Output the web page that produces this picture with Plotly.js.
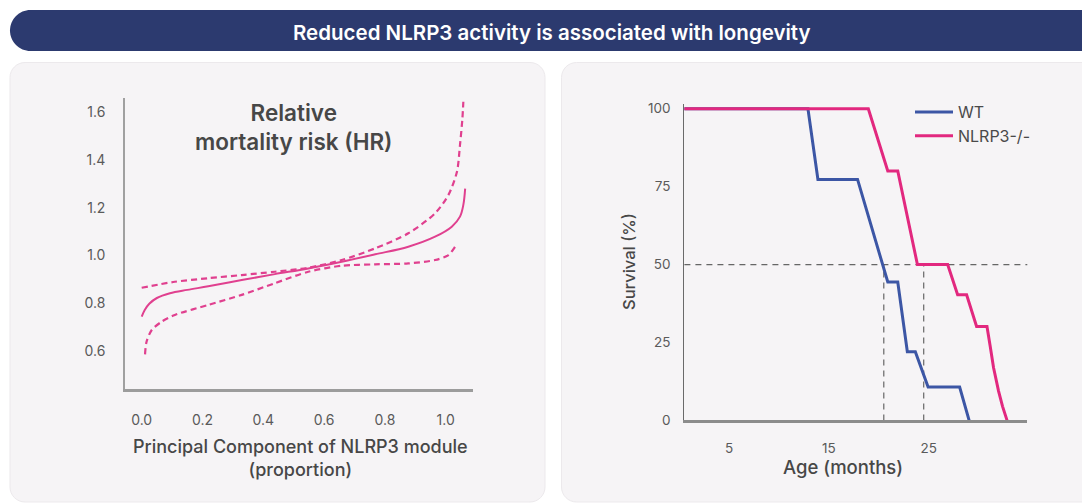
<!DOCTYPE html>
<html>
<head>
<meta charset="utf-8">
<script src="https://cdn.plot.ly/plotly-3.0.1.min.js"></script>
<style>
  html, body { margin: 0; padding: 0; background: #ffffff; }
  #chart { width: 1082px; height: 504px; }
</style>
</head>
<body>
<div id="chart"></div>
<script>
// ---------- Data ----------
const pcX      = [0, 0.01, 0.025, 0.05, 0.093, 0.15, 0.219, 0.329, 0.438, 0.548, 0.658, 0.768, 0.877, 0.965, 1.02, 1.047, 1.058, 1.064];
const hrMid    = [0.744, 0.772, 0.798, 0.822, 0.842, 0.856, 0.871, 0.897, 0.922, 0.946, 0.974, 1.005, 1.037, 1.079, 1.121, 1.163, 1.212, 1.28];
const upX      = [0, 0.109, 0.219, 0.329, 0.438, 0.548, 0.658, 0.768, 0.877, 0.965, 1.009, 1.037, 1.047, 1.055, 1.058];
const hrUpper  = [0.865, 0.89, 0.905, 0.918, 0.932, 0.949, 0.981, 1.03, 1.093, 1.177, 1.254, 1.351, 1.463, 1.575, 1.644];
const loX      = [0.011, 0.016, 0.033, 0.066, 0.109, 0.219, 0.329, 0.438, 0.548, 0.658, 0.768, 0.877, 0.965, 1.009, 1.031, 1.037];
const hrLower  = [0.586, 0.639, 0.688, 0.723, 0.751, 0.793, 0.835, 0.884, 0.932, 0.957, 0.963, 0.967, 0.981, 1.002, 1.037, 1.05];

const wtAge    = [0, 12.9, 13.9, 17.87, 20.9, 21.9, 22.86, 23.66, 24.94, 28.1, 29.05];
const wtSurv   = [100, 100, 77.3, 77.3, 44.4, 44.4, 22, 22, 10.7, 10.7, 0];
const koAge    = [0, 18.95, 20.9, 21.9, 23.87, 26.9, 27.9, 28.8, 29.8, 30.84, 31.15, 31.5, 32.0, 32.4, 32.85];
const koSurv   = [100, 100, 80, 80, 50, 50, 40.3, 40.3, 30.1, 30.1, 24, 16.9, 9.4, 4.5, 0];
const medianAges = [20.5, 24.5];
const halfSurvival = 50;

const seriesNames = ['WT', 'NLRP3-/-'];
const hrTicks   = [0.6, 0.8, 1.0, 1.2, 1.4, 1.6];
const pcTicks   = [0.0, 0.2, 0.4, 0.6, 0.8, 1.0];
const ageTicks  = [5, 15, 25];
const survTicks = [0, 25, 50, 75, 100];

const headerText = 'Reduced NLRP3 activity is associated with longevity';
const leftTitle  = 'Relative<br>mortality risk (HR)';
const leftXTitle = 'Principal Component of NLRP3 module<br>(proportion)';
const rightXTitle = 'Age (months)';
const rightYTitle = 'Survival (%)';

// ---------- Helpers ----------
const W = 1082, H = 504;
const FONT = 'Inter, "Open Sans", sans-serif';
const px = x => x / W;
const py = y => 1 - y / H;
function roundRect(x0, y0, x1, y1, r) {
  const k = 0.5523 * r;
  const P = (x, y) => px(x).toFixed(5) + ',' + py(y).toFixed(5);
  return 'M' + P(x0 + r, y0) + ' L' + P(x1 - r, y0) +
    ' C' + P(x1 - r + k, y0) + ' ' + P(x1, y0 + r - k) + ' ' + P(x1, y0 + r) +
    ' L' + P(x1, y1 - r) +
    ' C' + P(x1, y1 - r + k) + ' ' + P(x1 - r + k, y1) + ' ' + P(x1 - r, y1) +
    ' L' + P(x0 + r, y1) +
    ' C' + P(x0 + r - k, y1) + ' ' + P(x0, y1 - r + k) + ' ' + P(x0, y1 - r) +
    ' L' + P(x0, y0 + r) +
    ' C' + P(x0, y0 + r - k) + ' ' + P(x0 + r - k, y0) + ' ' + P(x0 + r, y0) + ' Z';
}

const PINK = '#e0408f';
const BLUE = '#3c56a5';
const KOPINK = '#e2287f';

const traces = [
  { x: pcX, y: hrMid, xaxis: 'x', yaxis: 'y', mode: 'lines', showlegend: false,
    line: { color: PINK, width: 2, shape: 'spline', smoothing: 1 }, hoverinfo: 'skip' },
  { x: upX, y: hrUpper, xaxis: 'x', yaxis: 'y', mode: 'lines', showlegend: false,
    line: { color: PINK, width: 2.2, dash: '6px,4px', shape: 'spline', smoothing: 0.8 }, hoverinfo: 'skip' },
  { x: loX, y: hrLower, xaxis: 'x', yaxis: 'y', mode: 'lines', showlegend: false,
    line: { color: PINK, width: 2.2, dash: '6px,4px', shape: 'spline', smoothing: 0.8 }, hoverinfo: 'skip' },
  { x: wtAge, y: wtSurv, xaxis: 'x2', yaxis: 'y2', mode: 'lines', name: seriesNames[0], legendgroup: 'a',
    line: { color: BLUE, width: 3 } },
  { x: koAge, y: koSurv, xaxis: 'x2', yaxis: 'y2', mode: 'lines', name: seriesNames[1], legendgroup: 'b',
    line: { color: KOPINK, width: 3 } }
];

const shapes = [
  { type: 'path', xref: 'paper', yref: 'paper', layer: 'below', path: roundRect(10, 10, 1120, 51, 20.5),
    fillcolor: '#2c3a6f', line: { width: 0 } },
  { type: 'path', xref: 'paper', yref: 'paper', layer: 'below', path: roundRect(10, 62.5, 545, 502, 15),
    fillcolor: '#f6f4f6', line: { color: '#ece9ec', width: 1 } },
  { type: 'path', xref: 'paper', yref: 'paper', layer: 'below', path: roundRect(561.5, 62.5, 1120, 502, 15),
    fillcolor: '#f6f4f6', line: { color: '#ece9ec', width: 1 } },
  // 50% survival reference
  { type: 'line', xref: 'x2 domain', yref: 'y2', x0: 0, x1: 1, y0: halfSurvival, y1: halfSurvival,
    line: { color: '#666666', width: 1.2, dash: '6px,5px' }, layer: 'below' }
];
medianAges.forEach(a => shapes.push({ type: 'line', xref: 'x2', yref: 'y2', x0: a, x1: a, y0: 0, y1: halfSurvival,
  line: { color: '#666666', width: 1.2, dash: '6px,5px' }, layer: 'below' }));

const axisFont = { family: FONT, size: 14, color: '#5a5a5a' };

const layout = {
  width: W, height: H,
  margin: { l: 0, r: 0, t: 0, b: 0, pad: 0 },
  paper_bgcolor: '#ffffff',
  plot_bgcolor: 'rgba(0,0,0,0)',
  font: { family: FONT },
  showlegend: true,
  legend: {
    x: px(910), y: py(95), xanchor: 'left', yanchor: 'top',
    bgcolor: 'rgba(0,0,0,0)', borderwidth: 0,
    font: { family: FONT, size: 16, color: '#4a4a4a' },
    itemwidth: 38, traceorder: 'grouped', tracegroupgap: 0
  },
  xaxis: {
    domain: [px(125), px(473)], range: [-0.0549, 1.0898],
    tickvals: pcTicks, ticktext: pcTicks.map(v => v.toFixed(1)),
    showgrid: false, zeroline: false, showline: true, linecolor: '#9c9c9c', linewidth: 2.5,
    ticks: '', tickfont: axisFont, ticklabelstandoff: 16, anchor: 'y', fixedrange: true
  },
  yaxis: {
    domain: [py(389.3), py(98.3)], range: [0.4395, 1.6587],
    tickvals: hrTicks, ticktext: hrTicks.map(v => v.toFixed(1)),
    showgrid: false, zeroline: false, showline: true, linecolor: '#a0a0a0', linewidth: 1.8,
    ticks: '', tickfont: axisFont, ticklabelstandoff: 15, anchor: 'x', fixedrange: true
  },
  xaxis2: {
    domain: [px(684.4), px(1027.3)], range: [0.52, 34.88],
    tickvals: ageTicks,
    showgrid: false, zeroline: false, showline: true, linecolor: '#8c8c8c', linewidth: 3,
    ticks: '', tickfont: { family: FONT, size: 13.5, color: '#5a5a5a' }, ticklabelstandoff: 13, anchor: 'y2', fixedrange: true
  },
  yaxis2: {
    domain: [py(420.4), py(103.7)], range: [0, 101.6],
    tickvals: survTicks,
    showgrid: false, zeroline: false, showline: true, linecolor: '#6a6a6a', linewidth: 1.2,
    ticks: '', tickfont: { family: FONT, size: 13.5, color: '#5a5a5a' }, ticklabelstandoff: 10, anchor: 'x2', fixedrange: true
  },
  shapes: shapes,
  annotations: [
    { text: headerText, xref: 'paper', yref: 'paper', x: px(552), y: py(32), xanchor: 'center', yanchor: 'middle',
      showarrow: false, font: { family: FONT, size: 20.5, color: '#ffffff', weight: 600 } },
    { text: leftTitle, xref: 'paper', yref: 'paper', x: px(294), y: py(126.5), xanchor: 'center', yanchor: 'middle',
      showarrow: false, font: { family: FONT, size: 22.5, color: '#474747', weight: 600 } },
    { text: leftXTitle, xref: 'paper', yref: 'paper', x: px(300), y: py(457.5), xanchor: 'center', yanchor: 'middle',
      showarrow: false, font: { family: FONT, size: 18, color: '#474747', weight: 500 } },
    { text: rightXTitle, xref: 'paper', yref: 'paper', x: px(843), y: py(466.5), xanchor: 'center', yanchor: 'middle',
      showarrow: false, font: { family: FONT, size: 18.5, color: '#474747', weight: 500 } },
    { text: rightYTitle, xref: 'paper', yref: 'paper', x: px(629), y: py(262), xanchor: 'center', yanchor: 'middle',
      textangle: -90, showarrow: false, font: { family: FONT, size: 16.5, color: '#474747', weight: 500 } }
  ]
};

Plotly.newPlot('chart', traces, layout, { displayModeBar: false, staticPlot: true });
</script>
</body>
</html>
